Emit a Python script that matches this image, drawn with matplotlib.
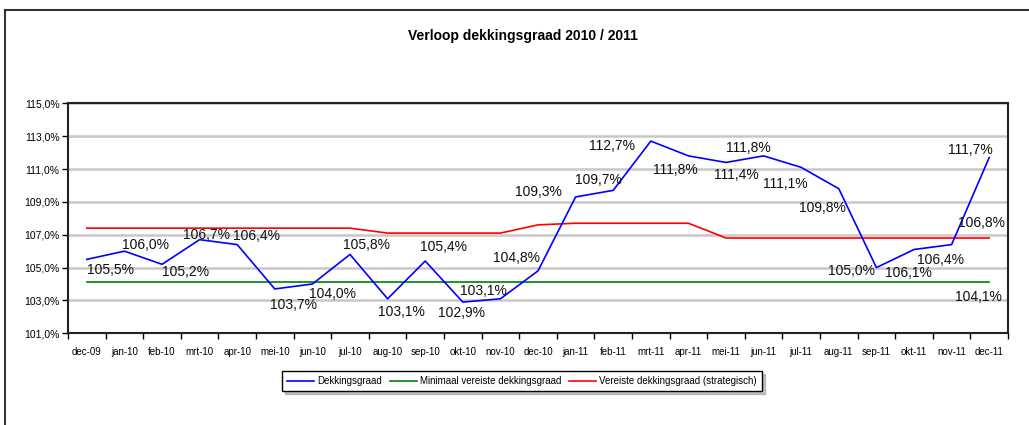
import matplotlib.pyplot as plt
import matplotlib.lines as mlines

plt.rcParams['font.family'] = ['Liberation Sans', 'DejaVu Sans']

# Data
months = ["dec-09", "jan-10", "feb-10", "mrt-10", "apr-10", "mei-10", "jun-10", "jul-10",
          "aug-10", "sep-10", "okt-10", "nov-10", "dec-10", "jan-11", "feb-11", "mrt-11",
          "apr-11", "mei-11", "jun-11", "jul-11", "aug-11", "sep-11", "okt-11", "nov-11", "dec-11"]
dekkingsgraad = [105.5, 106.0, 105.2, 106.7, 106.4, 103.7, 104.0, 105.8, 103.1, 105.4,
                 102.9, 103.1, 104.8, 109.3, 109.7, 112.7, 111.8, 111.4, 111.8, 111.1,
                 109.8, 105.0, 106.1, 106.4, 111.7]
minimaal = [104.1] * 25
strategisch = [107.4, 107.4, 107.4, 107.4, 107.4, 107.4, 107.4, 107.4, 107.1, 107.1,
               107.1, 107.1, 107.6, 107.7, 107.7, 107.7, 107.7, 106.8, 106.8, 106.8,
               106.8, 106.8, 106.8, 106.8, 106.8]

# label offsets in pixels (dx, dy up) for the Dekkingsgraad labels
label_offsets = [(24, -11), (21, 6), (24, -8), (7, 5), (19, 9), (19, -16), (20, -10),
                 (16, 9), (14, -13), (18, 14), (-1, -11), (-17, 8), (-21, 13), (-37, 5),
                 (-15, 10), (-39, -5), (-13, -14), (10, -13), (-15, 8), (-16, -17),
                 (-16, -19), (-25, -3), (-6, -23), (-11, -15), (-19, 8)]


def pct(v):
    return f"{v:.1f}".replace(".", ",") + "%"


fig = plt.figure(figsize=(10.29, 4.25), dpi=100)
ax = fig.add_axes([68 / 1029, 1 - 333.3 / 425, 940 / 1029, 230 / 425])

x = list(range(len(months)))
ax.plot(x, dekkingsgraad, color="#0000ff", lw=1.2, label="Dekkingsgraad", zorder=3)
ax.plot(x, minimaal, color="#008000", lw=1.2, label="Minimaal vereiste dekkingsgraad", zorder=2)
ax.plot(x, strategisch, color="#ff0000", lw=1.2, label="Vereiste dekkingsgraad (strategisch)", zorder=2)

lbl = dict(textcoords="offset pixels", ha="center", va="center", fontsize=10,
           color="#111111", fontweight="medium", zorder=4)
for i, v in enumerate(dekkingsgraad):
    dx, dy = label_offsets[i]
    ax.annotate(pct(v), (i, v), xytext=(dx, dy), **lbl)
ax.annotate(pct(strategisch[-1]), (24, strategisch[-1]), xytext=(-8, 15), **lbl)
ax.annotate(pct(minimaal[-1]), (24, minimaal[-1]), xytext=(-11, -15), **lbl)

ax.set_xlim(-0.5, len(months) - 0.5)
ax.set_ylim(101, 115)
ax.set_yticks(range(101, 116, 2))
ax.set_yticklabels([f"{t},0%" for t in range(101, 116, 2)], fontsize=7.5)
ax.set_xticks(x)
ax.set_xticklabels(months, fontsize=7)
ax.set_xticks([i - 0.5 for i in range(len(months) + 1)], minor=True)
ax.tick_params(axis="x", which="major", length=0, pad=10)
ax.tick_params(axis="x", which="minor", length=4, width=1, direction="out")
ax.tick_params(axis="y", length=4, width=1, direction="out", pad=2)
ax.grid(axis="y", color="#c8c8c8", lw=1.8)
ax.set_axisbelow(True)
for s in ax.spines.values():
    s.set_color("#222222")
    s.set_linewidth(1.5)

fig.text(523 / 1029, 1 - 36 / 425, "Verloop dekkingsgraad 2010 / 2011",
         ha="center", va="center", fontsize=10, fontweight="bold")

leg = fig.legend(loc="center", bbox_to_anchor=(522 / 1029, 1 - 381 / 425), ncol=3,
                 fontsize=7, frameon=True, fancybox=False,
                 shadow={"color": "#999999", "alpha": 0.6},
                 handlelength=2.8, columnspacing=0.8, handletextpad=0.3, borderpad=0.5)
leg.get_frame().set_edgecolor("black")
leg.get_frame().set_linewidth(1.0)

# outer chart border (top and left)
fig.add_artist(mlines.Line2D([5 / 1029, 1], [1 - 10 / 425, 1 - 10 / 425], color="#333333", lw=1.5))
fig.add_artist(mlines.Line2D([5 / 1029, 5 / 1029], [0, 1 - 10 / 425], color="#333333", lw=1.5))

plt.savefig("out.png", dpi=100)
